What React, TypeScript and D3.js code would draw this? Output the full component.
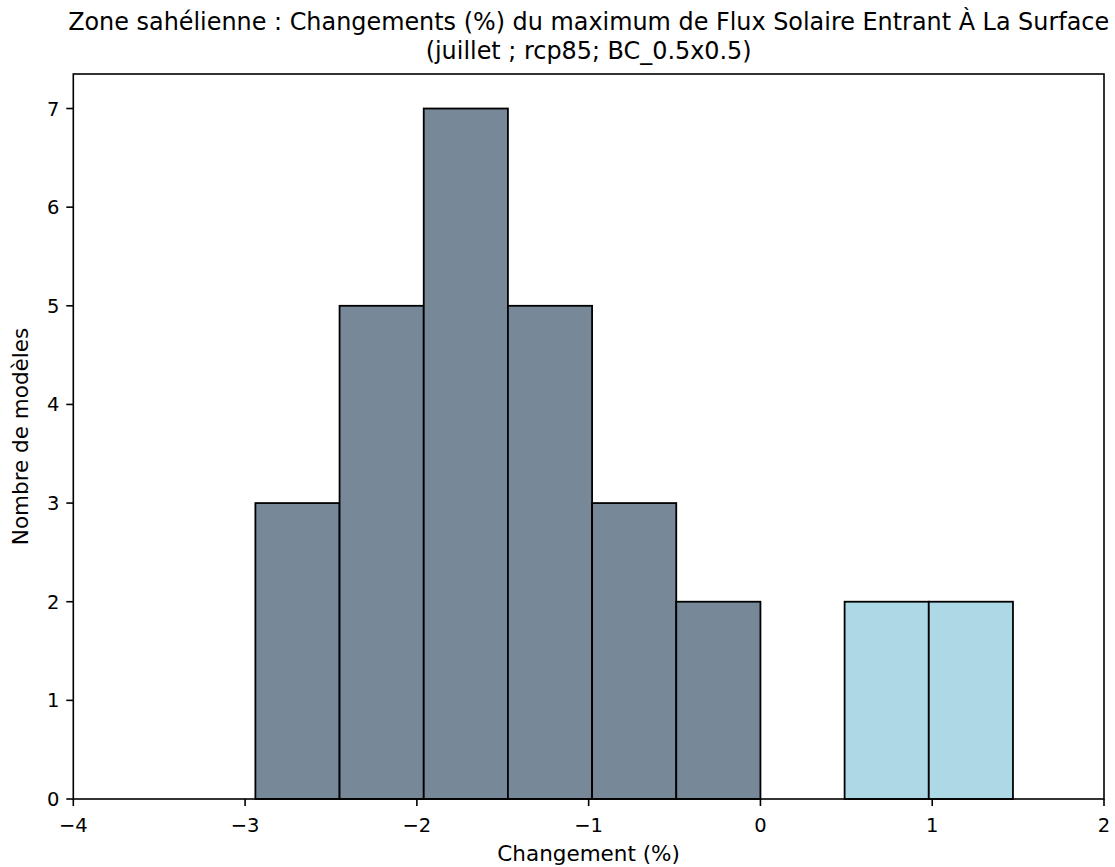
import React from "react";
import * as d3 from "d3";

const binEdges = [-2.94, -2.45, -1.96, -1.47, -0.98, -0.49, 0, 0.49, 0.98, 1.47];
const binCounts = [3, 5, 7, 5, 3, 2, 0, 2, 2];
const binColors = ["#778899", "#778899", "#778899", "#778899", "#778899", "#778899", "#778899", "#add8e6", "#add8e6"];
const xTicks = [-4, -3, -2, -1, 0, 1, 2];
const yTicks = [0, 1, 2, 3, 4, 5, 6, 7];
const titleLines = [
  "Zone sahélienne : Changements (%) du maximum de Flux Solaire Entrant À La Surface",
  "(juillet ; rcp85; BC_0.5x0.5)",
];
const xLabel = "Changement (%)";
const yLabel = "Nombre de modèles";

const W = 1115;
const H = 867;
const left = 73.3;
const right = 1104;
const top = 74;
const bottom = 799;

export default function App() {
  const x = d3.scaleLinear().domain([-4, 2]).range([left, right]);
  const y = d3.scaleLinear().domain([0, 7.35]).range([bottom, top]);
  const fmt = (v: number) => (v < 0 ? "\u2212" + Math.abs(v) : String(v));
  const font = "DejaVu Sans, sans-serif";
  return (
    <svg width={W} height={H} style={{ position: "absolute", left: 0, top: 0, background: "#fff" }} fontFamily={font}>
      <rect x={0} y={0} width={W} height={H} fill="#fff" />
      {binCounts.map((c, i) =>
        c > 0 ? (
          <rect
            key={i}
            x={x(binEdges[i])}
            y={y(c)}
            width={x(binEdges[i + 1]) - x(binEdges[i])}
            height={y(0) - y(c)}
            fill={binColors[i]}
            stroke="#000"
            strokeWidth={1.8}
          />
        ) : null
      )}
      <rect x={left} y={top} width={right - left} height={bottom - top} fill="none" stroke="#000" strokeWidth={1.6} />
      {xTicks.map((t) => (
        <g key={t}>
          <line x1={x(t)} x2={x(t)} y1={bottom} y2={bottom + 7} stroke="#000" strokeWidth={1.6} />
          <text x={x(t)} y={832} textAnchor="middle" fontSize={19.5} fill="#000">
            {fmt(t)}
          </text>
        </g>
      ))}
      {yTicks.map((t) => (
        <g key={t}>
          <line x1={left - 7} x2={left} y1={y(t)} y2={y(t)} stroke="#000" strokeWidth={1.6} />
          <text x={left - 14} y={y(t) + 7} textAnchor="end" fontSize={19.5} fill="#000">
            {fmt(t)}
          </text>
        </g>
      ))}
      <text x={(left + right) / 2} y={860.5} textAnchor="middle" fontSize={21.5} fill="#000">
        {xLabel}
      </text>
      <text
        transform={`translate(28, ${(top + bottom) / 2}) rotate(-90)`}
        textAnchor="middle"
        fontSize={21.5}
        fill="#000"
      >
        {yLabel}
      </text>
      {titleLines.map((l, i) => (
        <text key={i} x={(left + right) / 2} y={30 + i * 28.5} textAnchor="middle" fontSize={23.9} fill="#000">
          {l}
        </text>
      ))}
    </svg>
  );
}
